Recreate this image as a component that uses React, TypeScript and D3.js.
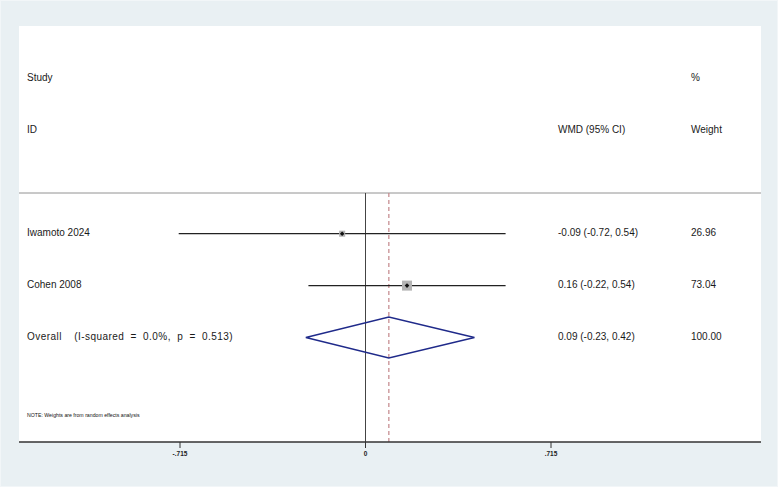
import React from "react";
import * as d3 from "d3";

const studies = ["Iwamoto 2024", "Cohen 2008"];
const estimates = [-0.09, 0.16];
const lowers = [-0.72, -0.22];
const uppers = [0.54, 0.54];
const weights = [26.96, 73.04];
const ciLabels = ["-0.09 (-0.72, 0.54)", "0.16 (-0.22, 0.54)"];
const weightLabels = ["26.96", "73.04"];

const overallLabel = "Overall  (I-squared = 0.0%, p = 0.513)";
const overallEst = 0.09;
const overallLo = -0.23;
const overallHi = 0.42;
const overallCi = "0.09 (-0.23, 0.42)";
const overallWeight = "100.00";

const tickValues = [-0.715, 0, 0.715];
const tickLabels = ["-.715", "0", ".715"];

const W = 778;
const H = 487;
const FONT = "'Liberation Sans', Arial, sans-serif";

export default function App() {
  const x = d3.scaleLinear().domain([-0.715, 0.715]).range([180, 551]);
  const row = d3.scaleLinear().domain([0, 5]).range([78, 337.5]);
  const boxSize = d3.scaleSqrt().domain([0, 100]).range([0, 11.7]);

  const plotL = 19, plotR = 761, plotT = 26, axisY = 442;
  const sepY = 193;
  const colText = 27, colCi = 558, colW = 691;

  const diamondPath = (() => {
    const y0 = row(5);
    const p = d3.path();
    p.moveTo(x(overallLo), y0);
    p.lineTo(x(overallEst), y0 - 20.5);
    p.lineTo(x(overallHi), y0);
    p.lineTo(x(overallEst), y0 + 20.5);
    p.closePath();
    return p.toString();
  })();

  const textStyle = { fontFamily: FONT, fontSize: 10, fill: "#1a1a1a" } as const;

  return (
    <svg
      width={W}
      height={H}
      style={{ position: "absolute", left: 0, top: 0, display: "block" }}
    >
      <rect x={0} y={0} width={W} height={H} fill="#e9f0f3" />
      <rect x={0.5} y={0.5} width={W - 1} height={H - 1} fill="none" stroke="#f2f6f8" />
      <rect x={plotL} y={plotT} width={plotR - plotL} height={axisY - plotT} fill="#ffffff" />

      {/* headers */}
      <text x={colText} y={row(0)} dominantBaseline="middle" style={textStyle}>Study</text>
      <text x={colText} y={row(1)} dominantBaseline="middle" style={textStyle}>ID</text>
      <text x={colCi} y={row(1)} dominantBaseline="middle" style={textStyle}>WMD (95% CI)</text>
      <text x={colW} y={row(0)} dominantBaseline="middle" style={textStyle}>%</text>
      <text x={colW} y={row(1)} dominantBaseline="middle" style={textStyle}>Weight</text>

      {/* separator */}
      <line x1={plotL} x2={plotR} y1={sepY} y2={sepY} stroke="#777" strokeWidth={0.8} />

      {/* null line */}
      <line x1={x(0)} x2={x(0)} y1={sepY} y2={axisY} stroke="#444" strokeWidth={1} />
      {/* overall dashed line */}
      <line
        x1={x(overallEst)}
        x2={x(overallEst)}
        y1={sepY}
        y2={axisY}
        stroke="#c3868a"
        strokeWidth={1.2}
        strokeDasharray="4,3"
      />

      {studies.map((s, i) => {
        const y = row(i + 3);
        const b = boxSize(weights[i]);
        const cx = x(estimates[i]);
        return (
          <g key={s}>
            <text x={colText} y={y} dominantBaseline="middle" style={textStyle}>{s}</text>
            <line x1={x(lowers[i])} x2={x(uppers[i])} y1={y} y2={y} stroke="#222" strokeWidth={1.3} />
            <rect x={cx - b / 2} y={y - b / 2} width={b} height={b} fill="#b4b4b4" />
            <path
              d={`M${cx - 2.3},${y} L${cx},${y - 2.3} L${cx + 2.3},${y} L${cx},${y + 2.3} Z`}
              fill="#111"
            />
            <text x={colCi} y={y} dominantBaseline="middle" style={textStyle}>{ciLabels[i]}</text>
            <text x={colW} y={y} dominantBaseline="middle" style={textStyle}>{weightLabels[i]}</text>
          </g>
        );
      })}

      {/* overall */}
      <text
        x={colText}
        y={row(5)}
        dominantBaseline="middle"
        xmlSpace="preserve"
        style={{ ...textStyle, whiteSpace: "pre", letterSpacing: 0.45, wordSpacing: 3 }}
      >
        {overallLabel}
      </text>
      <path d={diamondPath} fill="none" stroke="#1f2a8a" strokeWidth={1.3} />
      <text x={colCi} y={row(5)} dominantBaseline="middle" style={textStyle}>{overallCi}</text>
      <text x={colW} y={row(5)} dominantBaseline="middle" style={textStyle}>{overallWeight}</text>

      {/* note */}
      <text x={colText} y={416} dominantBaseline="middle" style={{ fontFamily: FONT, fontSize: 5.2, fill: "#111" }}>
        NOTE: Weights are from random effects analysis
      </text>

      {/* axis */}
      <line x1={plotL} x2={plotR} y1={axisY} y2={axisY} stroke="#333" strokeWidth={1.3} />
      {tickValues.map((t, i) => (
        <g key={t}>
          <line x1={x(t)} x2={x(t)} y1={axisY} y2={axisY + 6} stroke="#333" strokeWidth={1} />
          <text
            x={x(t)}
            y={454}
            textAnchor="middle"
            dominantBaseline="middle"
            style={{ fontFamily: FONT, fontSize: 6.5, fontWeight: "bold", fill: "#222" }}
          >
            {tickLabels[i]}
          </text>
        </g>
      ))}
    </svg>
  );
}
